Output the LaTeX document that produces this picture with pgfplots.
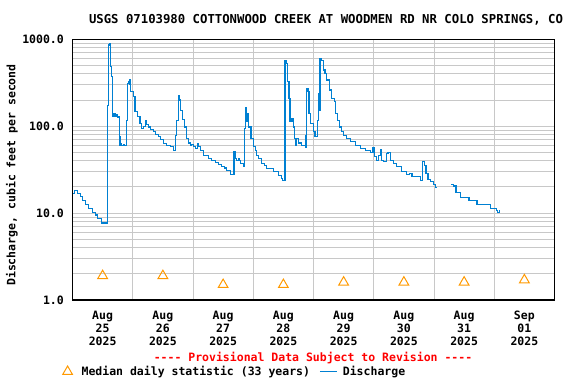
\documentclass[border=0pt]{standalone}
\usepackage{fontspec}
\setmainfont{DejaVu Sans Mono}[Ligatures=TeXOff]
\usepackage{pgfplots}
\pgfplotsset{compat=1.18}
\definecolor{qblue}{RGB}{0,128,210}
\definecolor{qorange}{RGB}{255,153,0}
\definecolor{gridgray}{RGB}{200,200,200}
\newcommand\lbl{\fontsize{11.5bp}{12.9bp}\selectfont\bfseries}
\pgfplotsset{trilegend/.style={legend image code/.code={\path[draw=none,fill=none] (0bp,-3bp) rectangle (17bp,3bp);
    \draw[mark repeat=2,mark phase=2,##1] plot coordinates {(0bp,0bp) (8.5bp,0bp) (17bp,0bp)};}}}
\begin{document}
\begin{tikzpicture}
\useasboundingbox (0,0) rectangle (576bp,384bp);
\begin{axis}[
  at={(72.5bp,84bp)}, anchor=south west,
  scale only axis, width=482bp, height=260.7bp,
  xmin=0, xmax=8, ymode=log, log basis y=10, ymin=1, ymax=1000,
  axis line style={line width=1.5bp, black},
  xtick={0.5,1.5,2.5,3.5,4.5,5.5,6.5,7.5},
  xticklabels={{Aug\\25\\2025},{Aug\\26\\2025},{Aug\\27\\2025},{Aug\\28\\2025},{Aug\\29\\2025},{Aug\\30\\2025},{Aug\\31\\2025},{Sep\\01\\2025}},
  minor xtick={1,2,3,4,5,6,7},
  xminorgrids=true, xmajorgrids=false,
  ytick={1,10,100,1000},
  yticklabels={1.0,10.0,100.0,1000.0},
  minor ytick={2,3,4,5,6,7,8,9,20,30,40,50,60,70,80,90,200,300,400,500,600,700,800,900},
  ymajorgrids=true, yminorgrids=true,
  major tick length=0pt, minor tick length=0pt,
  grid style={line width=1bp, gridgray},
  minor grid style={line width=1bp, gridgray},
  major grid style={line width=1bp, gridgray},
  xticklabel style={font=\lbl, align=center, anchor=north, inner sep=0pt, yshift=-10.7bp},
  yticklabel style={font=\lbl, anchor=east, inner sep=0pt, xshift=-8.5bp},
  unbounded coords=jump,
  legend columns=2,
  legend style={draw=none, fill=none, font=\lbl, at={(-0.0278,-0.2743)}, anchor=west,
    inner sep=0pt, outer sep=0pt, nodes={inner sep=0pt},
    /tikz/every odd column/.append style={column sep=5.5bp},
    /tikz/every even column/.append style={column sep=9.2bp}},
  legend cell align=left,
]
\addplot[only marks, mark=triangle, mark size=5.6bp, qorange, line width=1bp, trilegend] coordinates {
(0.5,1.9) (1.5,1.9) (2.5,1.5) (3.5,1.5) (4.5,1.6) (5.5,1.6) (6.5,1.6) (7.5,1.7)};
\addlegendentry{Median daily statistic (33 years)}
\addplot[const plot, qblue, line width=1.1bp] coordinates {
(0.000,16.8) (0.040,18.2) (0.086,16.8) (0.136,15.7) (0.169,14.0) (0.219,12.6)
(0.269,11.4) (0.335,10.2) (0.385,9.5) (0.420,8.7) (0.485,7.7) (0.585,175)
(0.595,860) (0.611,900) (0.625,850) (0.634,483) (0.651,370) (0.662,128)
(0.672,140) (0.690,130) (0.700,138) (0.720,128) (0.735,136) (0.750,125)
(0.767,130) (0.773,75.5) (0.789,60.5) (0.800,63) (0.820,60) (0.840,62)
(0.860,60) (0.900,117) (0.917,311) (0.935,330) (0.944,345) (0.955,300)
(0.967,249) (0.985,250) (1.010,218) (1.038,147) (1.077,128) (1.121,108)
(1.149,94) (1.180,100) (1.215,117) (1.235,105) (1.259,98) (1.300,92)
(1.342,86) (1.380,80) (1.425,75.5) (1.460,70) (1.508,63.4) (1.560,60)
(1.620,58) (1.675,52) (1.703,79) (1.731,117) (1.757,228) (1.774,200)
(1.797,153) (1.820,120) (1.852,98) (1.897,72) (1.930,64) (1.952,60.5)
(1.975,62) (2.007,58) (2.040,55) (2.073,63) (2.090,58) (2.118,53)
(2.173,46.5) (2.256,42.5) (2.300,40.5) (2.367,38.3) (2.420,36.5) (2.478,34.7)
(2.520,33) (2.560,31.2) (2.616,28) (2.680,50.7) (2.697,42.5) (2.725,40.7)
(2.752,42) (2.770,40) (2.791,37.2) (2.835,34) (2.852,94) (2.868,165)
(2.890,112) (2.907,140) (2.924,98) (2.963,72) (3.000,58) (3.030,52)
(3.056,46.5) (3.090,43) (3.139,37.2) (3.180,35) (3.222,32.6) (3.333,29.8)
(3.416,27.3) (3.472,25) (3.490,23.5) (3.527,577) (3.544,528) (3.566,325)
(3.594,209) (3.610,112) (3.643,123) (3.666,98) (3.682,72) (3.699,60.5)
(3.721,72) (3.749,64) (3.804,60.5) (3.860,57) (3.876,79) (3.887,272)
(3.909,249) (3.926,140) (3.953,108) (3.998,86) (4.025,75.5) (4.064,117)
(4.081,239) (4.097,153) (4.108,603) (4.128,577) (4.166,443) (4.191,405)
(4.222,340) (4.266,261) (4.305,209) (4.344,191) (4.366,140) (4.399,117)
(4.432,98) (4.460,86) (4.500,79) (4.555,72) (4.610,66) (4.693,60.5)
(4.776,55) (4.859,52) (4.942,49.4) (4.987,57) (5.008,45.3) (5.041,40.7)
(5.080,46.5) (5.108,54.4) (5.136,40.7) (5.163,39) (5.208,48.6) (5.236,50)
(5.274,40.7) (5.329,37.2) (5.385,34) (5.468,30.4) (5.551,28) (5.600,28.5)
(5.635,26.1) (5.772,23.9) (5.810,38.9) (5.840,35.6) (5.867,28.6) (5.900,24.3)
(5.939,22.9) (5.994,21.5) (6.027,19.7) (6.043,19.7) (6.050,nan)
(6.287,21.5) (6.330,20.5) (6.365,17.1) (6.437,15.1) (6.581,13.8) (6.714,12.6)
(6.935,11.3) (7.030,10.8) (7.060,10.2) (7.080,10.8)};
\addlegendentry{Discharge}
\end{axis}
\node[font=\fontsize{12.3bp}{14bp}\selectfont\bfseries, anchor=base] at (326bp,360bp) {USGS 07103980 COTTONWOOD CREEK AT WOODMEN RD NR COLO SPRINGS, CO};
\node[font=\lbl, rotate=90, anchor=center] at (12bp,209bp) {Discharge, cubic feet per second};
\node[font=\lbl, text=red, anchor=base] at (313bp,22.3bp) {---- Provisional Data Subject to Revision ----};
\end{tikzpicture}
\end{document}
